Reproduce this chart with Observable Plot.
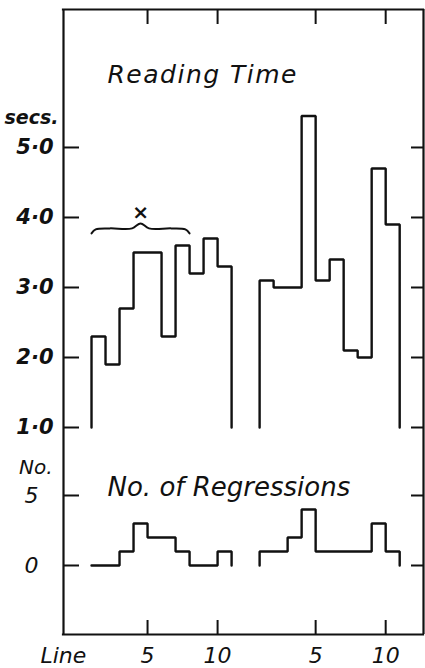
<!DOCTYPE html>
<html>
<head>
<meta charset="utf-8">
<script src="https://cdn.jsdelivr.net/npm/d3@7"></script>
<script src="https://cdn.jsdelivr.net/npm/@observablehq/plot@0.6"></script>
<style>
  html, body { margin: 0; padding: 0; background: #fff; }
  #chart { position: relative; width: 425px; height: 668px; overflow: hidden; }
  #chart > svg { position: absolute; left: 0; display: block; }
</style>
</head>
<body>
<div id="chart"></div>
<script>
// ---- data ----
const lines = [1, 2, 3, 4, 5, 6, 7, 8, 9, 10];
const passageOffset = [0, 12];            // second passage drawn to the right
const readingTimeA = [2.3, 1.9, 2.7, 3.5, 3.5, 2.3, 3.6, 3.2, 3.7, 3.3];
const readingTimeB = [3.1, 3.0, 3.0, 5.45, 3.1, 3.4, 2.1, 2.0, 4.7, 3.9];
const regressionsA = [0, 0, 1, 3, 2, 2, 1, 0, 0, 1];
const regressionsB = [1, 1, 2, 4, 1, 1, 1, 1, 3, 1];
const secsTicks = [1, 2, 3, 4, 5];
const regTicks = [0, 5];
const lineTickPos = [5, 10, 17, 22];
const lineTickLabels = ["5", "10", "5", "10"];
const braceSpan = [1, 8];   // lines covered by the "×" bracket
const braceLevel = 3.83;    // secs
const braceLabel = "×";

// ---- helpers ----
function stepPoints(values, offset, base, series) {
  const pts = [{x: lines[0] + offset, y: base, series}];
  lines.forEach((l, i) => pts.push({x: l + offset, y: values[i], series}));
  const last = lines[lines.length - 1] + 1 + offset;
  pts.push({x: last, y: values[values.length - 1], series});
  pts.push({x: last, y: base, series});
  return pts;
}
const readingPts = [
  ...stepPoints(readingTimeA, passageOffset[0], 1.0, "A"),
  ...stepPoints(readingTimeB, passageOffset[1], 1.0, "B")
];
const regressionPts = [
  ...stepPoints(regressionsA, passageOffset[0], 0, "A"),
  ...stepPoints(regressionsB, passageOffset[1], 0, "B")
];

const W = 425;
const xDomain = [-1, 24.7];
const mL = 63, mR = 2;
const frameW = W - mL - mR;
const pxX = frameW / (xDomain[1] - xDomain[0]);
const font = "'DejaVu Sans', sans-serif";
const ink = "#111";

// tick stubs (pixel lengths converted to data units)
const leftTick = {x1: xDomain[0], x2: xDomain[0] + 16 / pxX};
const rightTick = {x1: xDomain[1] - 12 / pxX, x2: xDomain[1]};

// brace shape (relative offsets in px converted to data units)
const pxY1 = 70;
const [b0, b1] = braceSpan;
const bm = (b0 + b1) / 2;
const braceShape = [
  [0, 4], [0.3, 0], [1.3, -1], [bm - b0 - 0.6, -1], [bm - b0, -6],
  [bm - b0 + 0.6, -1], [b1 - b0 - 1.3, -1], [b1 - b0 - 0.3, 0], [b1 - b0, 4]
].map(([dx, dy]) => ({x: b0 + dx, y: braceLevel - dy / pxY1}));

// ---- top panel: reading time ----
const H1 = 445;
const yTop = [0.7429, 6.971];
const topPlot = Plot.plot({
  width: W, height: H1,
  marginLeft: mL, marginRight: mR, marginTop: 9, marginBottom: 0,
  x: {domain: xDomain, axis: null},
  y: {domain: yTop, axis: null},
  style: {fontFamily: font, background: "transparent", color: ink, overflow: "visible"},
  marks: [
    Plot.ruleX([xDomain[0], xDomain[1]], {stroke: ink, strokeWidth: 2.2}),
    Plot.ruleY([yTop[1]], {stroke: ink, strokeWidth: 2.2, strokeLinecap: "square"}),
    Plot.ruleY(secsTicks, {y: d => d, ...leftTick, stroke: ink, strokeWidth: 2}),
    Plot.ruleY(secsTicks, {y: d => d, ...rightTick, stroke: ink, strokeWidth: 2}),
    Plot.ruleX(lineTickPos, {x: d => d, y1: yTop[1], y2: yTop[1] - 15 / pxY1, stroke: ink, strokeWidth: 2}),
    Plot.text(secsTicks, {
      y: d => d, text: d => d.toFixed(1).replace(".", "·"),
      frameAnchor: "left", dx: -10, textAnchor: "end",
      fontSize: 21, fontStyle: "italic", fontWeight: "bold", fill: ink
    }),
    Plot.text(["secs."], {
      frameAnchor: "top-left", dx: -5, dy: 114, lineAnchor: "bottom", textAnchor: "end",
      fontSize: 19, fontStyle: "italic", fontWeight: "bold", fill: ink
    }),
    Plot.text(["Reading Time"], {
      frameAnchor: "top-left", dx: 44, dy: 73, lineAnchor: "bottom", textAnchor: "start",
      fontSize: 25, fontStyle: "italic", fill: ink
    }),
    Plot.line(braceShape, {x: "x", y: "y", curve: "catmull-rom", stroke: ink, strokeWidth: 2}),
    Plot.text([braceLabel], {
      x: bm, y: braceLevel, dy: -17, text: d => d,
      fontSize: 20, fontWeight: "bold", fill: ink
    }),
    Plot.line(readingPts, {x: "x", y: "y", z: "series", curve: "step-after",
      stroke: ink, strokeWidth: 2.4, strokeLinejoin: "miter"})
  ]
});
topPlot.style.top = "0px";
topPlot.querySelectorAll("text").forEach(t => {
  if (t.textContent === "Reading Time") t.style.letterSpacing = "1.5px";
});

// ---- bottom panel: regressions ----
const H2 = 668 - H1;
const yBot = [-4.929, 8.571];
const pxY2 = 14;
const botPlot = Plot.plot({
  width: W, height: H2,
  marginLeft: mL, marginRight: mR, marginTop: 0, marginBottom: 34,
  x: {domain: xDomain, axis: null},
  y: {domain: yBot, axis: null},
  style: {fontFamily: font, background: "transparent", color: ink, overflow: "visible"},
  marks: [
    Plot.ruleX([xDomain[0], xDomain[1]], {stroke: ink, strokeWidth: 2.2}),
    Plot.ruleY([yBot[0]], {stroke: ink, strokeWidth: 2.2, strokeLinecap: "square"}),
    Plot.ruleY(regTicks, {y: d => d, ...leftTick, stroke: ink, strokeWidth: 2}),
    Plot.ruleY(regTicks, {y: d => d, ...rightTick, stroke: ink, strokeWidth: 2}),
    Plot.ruleX(lineTickPos, {x: d => d, y1: yBot[0], y2: yBot[0] + 14 / pxY2, stroke: ink, strokeWidth: 2}),
    Plot.text(regTicks, {
      y: d => d, text: d => String(d),
      frameAnchor: "left", dx: -25, textAnchor: "end",
      fontSize: 22, fontStyle: "italic", fill: ink
    }),
    Plot.text(["No."], {
      frameAnchor: "top-left", dx: -11, dy: 28, lineAnchor: "bottom", textAnchor: "end",
      fontSize: 20, fontStyle: "italic", fill: ink
    }),
    Plot.text(["No. of Regressions"], {
      frameAnchor: "top-left", dx: 44, dy: 50, lineAnchor: "bottom", textAnchor: "start",
      fontSize: 26, fontStyle: "italic", fill: ink
    }),
    Plot.text(lineTickPos, {
      x: d => d, text: (d, i) => lineTickLabels[i],
      frameAnchor: "bottom", dy: 28, lineAnchor: "bottom",
      fontSize: 22, fontStyle: "italic", fill: ink
    }),
    Plot.text(["Line"], {
      frameAnchor: "bottom-left", dx: -23, dy: 28, lineAnchor: "bottom", textAnchor: "start",
      fontSize: 22, fontStyle: "italic", fill: ink
    }),
    Plot.line(regressionPts, {x: "x", y: "y", z: "series", curve: "step-after",
      stroke: ink, strokeWidth: 2.4, strokeLinejoin: "miter"})
  ]
});
botPlot.style.top = H1 + "px";

document.getElementById("chart").append(topPlot, botPlot);
</script>
</body>
</html>
